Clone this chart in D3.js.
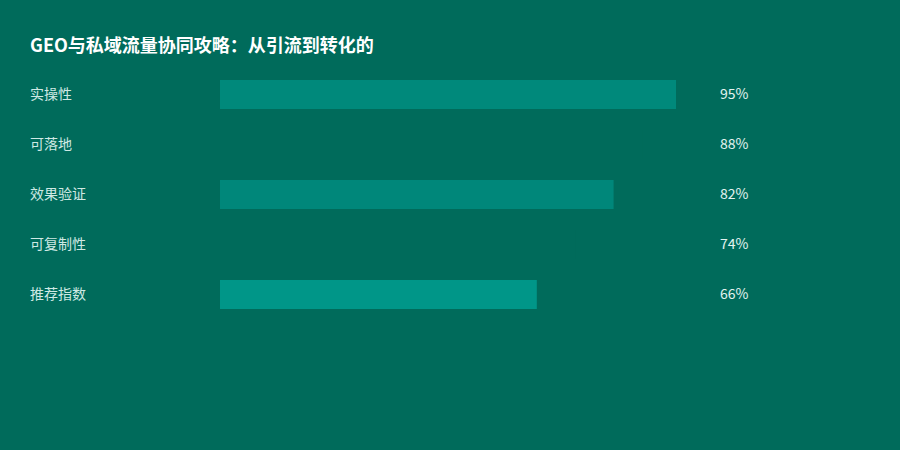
<!DOCTYPE html>
<html>
<head>
<meta charset="utf-8">
<script src="https://cdn.jsdelivr.net/npm/d3@7"></script>
<style>
  html, body { margin: 0; padding: 0; background: #006b5b; }
  svg { display: block; font-family: "Noto Sans CJK SC", "Noto Sans", sans-serif; }
</style>
</head>
<body>
<div id="chart"></div>
<script>
"use strict";

const title = "GEO与私域流量协同攻略：从引流到转化的";
const categories = ["实操性", "可落地", "效果验证", "可复制性", "推荐指数"];
const values = [95, 88, 82, 74, 66];
const barColors = ["#00897b", "#006b5b", "#00877a", "#006b5b", "#009688"];

const width = 900, height = 450;

const svg = d3.select("#chart")
    .append("svg")
    .attr("width", width)
    .attr("height", height);

svg.append("rect")
    .attr("width", width)
    .attr("height", height)
    .attr("fill", "#006b5b");

svg.append("text")
    .attr("x", 30)
    .attr("y", 52)
    .attr("fill", "#ffffff")
    .attr("font-size", 18)
    .attr("font-weight", "bold")
    .text(title);

// scales
const x = d3.scaleLinear().domain([0, 100]).range([220, 700]);
const y = d3.scaleBand()
    .domain(categories)
    .range([80, 309])
    .paddingInner(0.42)
    .paddingOuter(0);

const row = svg.selectAll("g.row")
    .data(categories)
    .join("g")
    .attr("class", "row");

row.append("rect")
    .attr("x", x(0))
    .attr("y", d => y(d))
    .attr("width", (d, i) => x(values[i]) - x(0))
    .attr("height", y.bandwidth())
    .attr("fill", (d, i) => barColors[i]);

row.append("text")
    .attr("x", 30)
    .attr("y", d => y(d) + y.bandwidth() / 2)
    .attr("dy", "0.35em")
    .attr("fill", "#cfe9e4")
    .attr("font-size", 14)
    .text(d => d);

row.append("text")
    .attr("x", 720)
    .attr("y", d => y(d) + y.bandwidth() / 2)
    .attr("dy", "0.35em")
    .attr("fill", "#e3f3f0")
    .attr("font-size", 14)
    .text((d, i) => values[i] + "%");
</script>
</body>
</html>
